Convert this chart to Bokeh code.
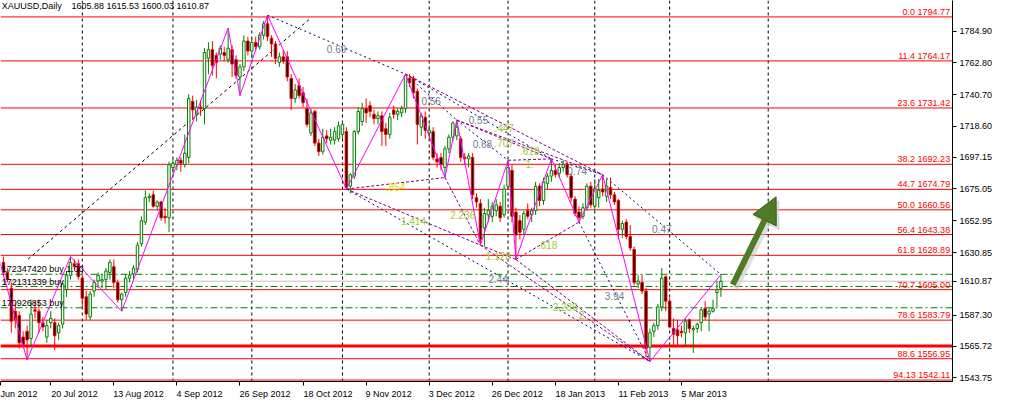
from bokeh.plotting import figure
from bokeh.models import Range1d, FixedTicker, Label, Arrow, NormalHead, NumeralTickFormatter
from bokeh.embed import file_html
from bokeh.resources import INLINE
from bokeh.core.properties import value

FONT = "Liberation Sans"

# ---------------- data ----------------
symbol_text = "XAUUSD,Daily"
header_ohlc = "1605.88 1615.53 1600.03 1610.87"

bar_open = [1624, 1617, 1606, 1590, 1587, 1572, 1576, 1571, 1591, 1590, 1582, 1572, 1582, 1582, 1575, 1581, 1605, 1615, 1623, 1623,
            1613, 1600, 1586, 1604, 1611, 1611, 1612, 1617, 1621, 1610, 1598, 1603, 1613, 1616, 1619, 1637, 1652, 1669, 1671, 1663,
            1666, 1656, 1655, 1690, 1692, 1695, 1692, 1697, 1736, 1727, 1732, 1731, 1766, 1772, 1768, 1769, 1770, 1765, 1772, 1765,
            1753, 1760, 1778, 1771, 1777, 1774, 1782, 1790, 1780, 1776, 1763, 1767, 1767, 1752, 1738, 1747, 1742, 1731, 1714, 1729,
            1707, 1701, 1712, 1709, 1709, 1710, 1713, 1715, 1677, 1684, 1715, 1722, 1731, 1733, 1727, 1724, 1726, 1717, 1713, 1730,
            1727, 1728, 1731, 1752, 1752, 1743, 1718, 1725, 1714, 1715, 1696, 1697, 1690, 1703, 1711, 1712, 1710, 1697, 1696, 1697,
            1669, 1665, 1648, 1657, 1656, 1660, 1663, 1657, 1677, 1688, 1659, 1653, 1647, 1660, 1657, 1660, 1677, 1667, 1679, 1684,
            1688, 1686, 1690, 1692, 1684, 1668, 1659, 1656, 1662, 1677, 1663, 1669, 1675, 1670, 1676, 1671, 1667, 1647, 1652, 1642,
            1633, 1609, 1610, 1604, 1565, 1576, 1580, 1593, 1614, 1597, 1578, 1577, 1576, 1575, 1584, 1577, 1578, 1582, 1592, 1588,
            1590, 1603, 1605.88]
bar_high = [1628, 1620, 1610, 1596, 1590, 1576, 1580, 1598, 1597, 1598, 1586, 1584, 1590, 1585, 1582, 1610, 1618, 1628, 1626, 1626,
            1616, 1604, 1604, 1612, 1617, 1616, 1620, 1626, 1626, 1612, 1603, 1616, 1618, 1622, 1638, 1656, 1674, 1672, 1674, 1667,
            1667, 1662, 1694, 1696, 1697, 1697, 1713, 1741, 1740, 1737, 1737, 1773, 1777, 1778, 1770, 1775, 1774, 1787, 1775, 1768,
            1762, 1782, 1781, 1780, 1781, 1784, 1792, 1796, 1782, 1778, 1770, 1772, 1771, 1755, 1748, 1752, 1746, 1738, 1731, 1730,
            1710, 1717, 1716, 1717, 1718, 1722, 1722, 1718, 1686, 1716, 1732, 1735, 1738, 1736, 1730, 1729, 1729, 1721, 1728, 1733,
            1731, 1733, 1755, 1755, 1754, 1745, 1728, 1729, 1720, 1718, 1700, 1700, 1705, 1713, 1722, 1723, 1712, 1700, 1700, 1700,
            1672, 1668, 1662, 1668, 1666, 1668, 1666, 1678, 1695, 1692, 1662, 1657, 1660, 1665, 1662, 1680, 1679, 1683, 1686, 1696,
            1692, 1693, 1695, 1694, 1686, 1670, 1663, 1665, 1679, 1680, 1682, 1682, 1685, 1682, 1683, 1673, 1668, 1653, 1654, 1650,
            1635, 1615, 1615, 1606, 1578, 1582, 1595, 1620, 1615, 1599, 1585, 1584, 1580, 1585, 1585, 1580, 1582, 1592, 1597, 1592,
            1598, 1611, 1615.53]
bar_low = [1614, 1610, 1575, 1578, 1564, 1565, 1556, 1566, 1585, 1575, 1576, 1568, 1578, 1563, 1570, 1578, 1600, 1612, 1619, 1612,
           1592, 1584, 1584, 1600, 1606, 1606, 1605, 1612, 1606, 1596, 1590, 1600, 1610, 1612, 1617, 1635, 1650, 1666, 1662, 1660,
           1653, 1651, 1645, 1686, 1688, 1687, 1690, 1693, 1723, 1722, 1726, 1720, 1755, 1754, 1752, 1765, 1764, 1763, 1753, 1752,
           1740, 1757, 1768, 1766, 1771, 1772, 1779, 1778, 1767, 1762, 1760, 1762, 1750, 1730, 1735, 1738, 1732, 1718, 1712, 1705,
           1698, 1699, 1707, 1706, 1706, 1708, 1710, 1675, 1672, 1682, 1713, 1719, 1721, 1725, 1720, 1720, 1705, 1705, 1710, 1724,
           1723, 1725, 1728, 1746, 1738, 1706, 1712, 1710, 1710, 1695, 1690, 1688, 1683, 1700, 1708, 1709, 1694, 1692, 1690, 1668,
           1662, 1636, 1635, 1652, 1652, 1656, 1652, 1655, 1675, 1652, 1626, 1640, 1643, 1654, 1652, 1657, 1663, 1664, 1675, 1680,
           1683, 1683, 1687, 1683, 1666, 1656, 1652, 1654, 1660, 1662, 1660, 1662, 1670, 1666, 1668, 1664, 1640, 1641, 1640, 1632,
           1608, 1606, 1602, 1558, 1555, 1572, 1577, 1590, 1590, 1578, 1565, 1566, 1572, 1566, 1575, 1561, 1575, 1576, 1584, 1576,
           1589, 1593, 1600.03]
bar_close = [1617, 1612, 1583, 1584, 1568, 1567, 1570, 1588, 1590, 1582, 1579, 1580, 1585, 1573, 1580, 1609, 1615, 1624, 1621, 1614,
             1599, 1588, 1602, 1610, 1615, 1612, 1618, 1624, 1610, 1598, 1602, 1613, 1615, 1620, 1636, 1653, 1669, 1670, 1663, 1666,
             1655, 1655, 1692, 1693, 1695, 1693, 1700, 1738, 1730, 1732, 1731, 1770, 1772, 1761, 1763, 1773, 1768, 1773, 1762, 1754,
             1760, 1778, 1771, 1777, 1774, 1782, 1790, 1781, 1776, 1766, 1767, 1764, 1753, 1738, 1744, 1740, 1735, 1720, 1728, 1707,
             1701, 1711, 1710, 1711, 1715, 1719, 1720, 1676, 1685, 1715, 1729, 1731, 1728, 1729, 1724, 1726, 1715, 1713, 1725, 1727,
             1729, 1731, 1754, 1749, 1742, 1720, 1726, 1716, 1716, 1697, 1694, 1692, 1703, 1711, 1721, 1718, 1697, 1696, 1698, 1671,
             1666, 1640, 1658, 1660, 1663, 1664, 1655, 1675, 1690, 1656, 1643, 1645, 1658, 1656, 1660, 1677, 1667, 1680, 1684, 1688,
             1685, 1690, 1692, 1685, 1669, 1658, 1655, 1662, 1677, 1664, 1675, 1674, 1673, 1677, 1671, 1666, 1647, 1651, 1642, 1634,
             1610, 1611, 1604, 1564, 1575, 1580, 1593, 1613, 1597, 1579, 1574, 1573, 1575, 1583, 1578, 1578, 1581, 1591, 1586, 1590,
             1592, 1605, 1610.87]

date_tick_bars = [12, 28, 44, 60, 76, 92, 108, 124, 140, 156, 172]
date_tick_labels = ["20 Jul 2012", "13 Aug 2012", "4 Sep 2012", "26 Sep 2012", "18 Oct 2012", "9 Nov 2012",
                    "3 Dec 2012", "26 Dec 2012", "18 Jan 2013", "11 Feb 2013", "5 Mar 2013"]
cut_date_label = "Jun 2012"          # the partly hidden first date label at the left edge
month_separator_bars = [20, 43, 63, 86, 108, 128, 150, 169, 194]

price_axis_ticks = [1784.90, 1762.80, 1740.70, 1718.60, 1697.15, 1675.05, 1652.95, 1630.85, 1587.30, 1543.75]

fib_levels = ["0.0", "11.4", "23.6", "38.2", "44.7", "50.0", "56.4", "61.8", "70.7", "78.6", "88.6", "94.13"]
fib_prices = [1794.77, 1764.17, 1731.42, 1692.23, 1674.79, 1660.56, 1643.38, 1628.89, 1605.00, 1583.79, 1556.95, 1542.11]

support_price = 1565.72
bid_price = 1610.87

order_prices = [1615.7, 1607.2, 1592.4]
order_texts = ["172347420 buy 1.00", "172131339 buy", "170926853 buy"]

# zigzag pivots: bar index and whether the pivot is a high or low
zz_lead_bar = -1
zz_lead_price = 1625
zz_bars = [6, 17, 30, 57, 60, 67, 87, 102, 112, 115, 121, 128, 130, 139, 146, 152, 164, 182]
zz_kind = ["L", "H", "L", "H", "L", "H", "L", "H", "L", "H", "L", "H", "L", "H", "L", "H", "L", "H"]

# ratio lines between pivots (indices into zz_bars)
navy_pairs = [(5, 7), (7, 9), (7, 13), (9, 11), (13, 15), (15, 17), (6, 16), (14, 16)]
navy_texts = ["0.69", "0.56", "0.55", "0.68", "0.74", "0.47", "2.44", "3.94"]
purple_pairs = [(7, 15), (9, 13), (9, 15), (11, 13), (6, 8), (8, 10), (6, 10), (10, 12), (12, 14), (10, 16), (12, 16)]
purple_texts = [".447", ".707", ".618", "1.", ".854", "2.236", "1.414", "1.128", ".618", "2.236", "2."]

trend_bars = [6.25, 77.5]
trend_prices = [1626.3, 1792.9]

arrow_bars = [185, 196]
arrow_prices = [1608.4, 1669.6]

# ---------------- helpers ----------------
# approximate Liberation Sans advance widths (em) so that centred axis labels can be
# padded on the left and appear left-aligned on their tick, as in the original
EM = {" ": 0.278, "J": 0.5, "u": 0.556, "l": 0.222, "A": 0.667, "g": 0.556, "S": 0.667, "e": 0.556,
      "p": 0.556, "O": 0.778, "c": 0.5, "t": 0.278, "N": 0.722, "o": 0.556, "v": 0.5, "D": 0.722,
      "a": 0.556, "n": 0.556, "F": 0.611, "b": 0.556, "M": 0.833, "r": 0.333}


def left_pad(t):
    w = sum(EM.get(ch, 0.556) for ch in t)
    return "\u00a0" * int(round(w / 0.278)) + t


# ---------------- figure ----------------
X0, X1 = -0.75, 240.75
Y0, Y1 = 1541.1, 1806.2

p = figure(width=995, height=401, output_backend="svg", toolbar_location=None,
           x_range=Range1d(X0, X1), y_range=Range1d(Y0, Y1), y_axis_location="right",
           min_border_left=0, min_border_top=0, min_border_right=0, min_border_bottom=0)
p.grid.visible = False
p.outline_line_color = None
p.background_fill_color = "white"
p.border_fill_color = "white"

# axes
for ax in (p.xaxis[0], p.yaxis[0]):
    ax.axis_line_color = "black"
    ax.major_tick_line_color = "black"
    ax.major_tick_in = 0
    ax.major_tick_out = 4
    ax.minor_tick_line_color = None
    ax.major_label_text_font = FONT
    ax.major_label_text_font_size = "9px"
    ax.major_label_text_color = "black"
    ax.major_label_standoff = 3

cut_tick = X0 + 0.05
p.xaxis.ticker = FixedTicker(ticks=[cut_tick] + date_tick_bars)
overrides = {b: left_pad(t) for b, t in zip(date_tick_bars, date_tick_labels)}
overrides[cut_tick] = cut_date_label
p.xaxis.major_label_overrides = overrides
p.yaxis.ticker = FixedTicker(ticks=sorted(price_axis_ticks + [bid_price, support_price]))
p.yaxis.formatter = NumeralTickFormatter(format="0.00")

# month separators
n_sep = len(month_separator_bars)
p.segment(x0=month_separator_bars, x1=month_separator_bars, y0=[Y0] * n_sep, y1=[Y1] * n_sep,
          line_color="black", line_width=1, line_dash="3 3")

# fibonacci levels
n_fib = len(fib_prices)
p.segment(x0=[X0] * n_fib, x1=[X1] * n_fib, y0=fib_prices, y1=fib_prices, line_color="#ff0000", line_width=1)
p.segment(x0=[X0], x1=[X1], y0=[support_price], y1=[support_price], line_color="#ff0000", line_width=3)
p.segment(x0=[X0], x1=[X1], y0=[bid_price], y1=[bid_price], line_color="#c0c0c0", line_width=1)

# order lines
n_ord = len(order_prices)
p.segment(x0=[X0] * n_ord, x1=[X1] * n_ord, y0=order_prices, y1=order_prices,
          line_color="#008000", line_width=1, line_dash="7 3 2 3")

# trend line
p.line(trend_bars, trend_prices, line_color="black", line_width=1, line_dash="3 3")

# zigzag pivot prices
zz_prices = [bar_high[b] if k == "H" else bar_low[b] for b, k in zip(zz_bars, zz_kind)]


def pair_lines(pairs, color, dash):
    xs = [[zz_bars[i], zz_bars[j]] for i, j in pairs]
    ys = [[zz_prices[i], zz_prices[j]] for i, j in pairs]
    p.multi_line(xs, ys, line_color=color, line_width=1, line_dash=dash)


pair_lines(navy_pairs, "#000080", "2 3")
pair_lines(purple_pairs, "#800080", "3 2")

# candles
idx = list(range(len(bar_open)))
up = [c >= o for o, c in zip(bar_open, bar_close)]
wick_col = ["#008000" if u else "#ff0000" for u in up]
fill_col = ["white" if u else "black" for u in up]
p.segment(x0=idx, x1=idx, y0=bar_low, y1=bar_high, line_color=wick_col, line_width=1)
p.vbar(x=idx, width=0.62, top=[max(o, c) for o, c in zip(bar_open, bar_close)],
       bottom=[min(o, c) for o, c in zip(bar_open, bar_close)],
       fill_color=fill_col, line_color=wick_col, line_width=1)

# zigzag
p.line([zz_lead_bar] + zz_bars, [zz_lead_price] + zz_prices, line_color="#ff00ff", line_width=1)


# ratio labels at the middle of each pivot line
def pair_labels(pairs, texts, colors):
    mx = [(zz_bars[i] + zz_bars[j]) / 2 for i, j in pairs]
    my = [(zz_prices[i] + zz_prices[j]) / 2 for i, j in pairs]
    p.text(x=mx, y=my, text=texts, text_color=colors, text_font=value(FONT), text_font_size="10px",
           text_align="center", text_baseline="top")


pair_labels(navy_pairs, navy_texts, ["#708090"] * len(navy_pairs))
pair_labels(purple_pairs, purple_texts,
            ["#dddd00" if t == ".854" else "#9acd32" for t in purple_texts])

# fib labels
p.text(x=[X1 - 0.6] * n_fib, y=fib_prices, text=[f"{l} {v:.2f}" for l, v in zip(fib_levels, fib_prices)],
       text_color="#ff0000", text_font=value(FONT), text_font_size="9px",
       text_align="right", text_baseline="bottom")

# order labels
p.text(x=[X0 + 0.3] * n_ord, y=order_prices, text=order_texts, text_color="black",
       text_font=value(FONT), text_font_size="9px", text_align="left", text_baseline="bottom")

# arrow (with soft shadow)
p.add_layout(Arrow(end=NormalHead(size=26, fill_color="#c8c8c8", line_color="#c8c8c8", fill_alpha=0.6, line_alpha=0.6),
                   x_start=arrow_bars[0] + 0.7, y_start=arrow_prices[0] - 2.5,
                   x_end=arrow_bars[1] + 0.7, y_end=arrow_prices[1] - 2.5,
                   line_color="#c8c8c8", line_alpha=0.6, line_width=6))
p.add_layout(Arrow(end=NormalHead(size=26, fill_color="#4f7a28", line_color="#3d5f1e"),
                   x_start=arrow_bars[0], y_start=arrow_prices[0],
                   x_end=arrow_bars[1], y_end=arrow_prices[1],
                   line_color="#4f7a28", line_width=6))

# header
p.add_layout(Label(x=X0 + 0.3, y=Y1, text=symbol_text, text_font=FONT, text_font_size="9px",
                   text_color="black", text_baseline="top"))
p.add_layout(Label(x=X0 + 18, y=Y1, text=header_ohlc, text_font=FONT, text_font_size="9px",
                   text_color="black", text_baseline="top"))

open("out.html", "w").write(file_html(p, INLINE))
